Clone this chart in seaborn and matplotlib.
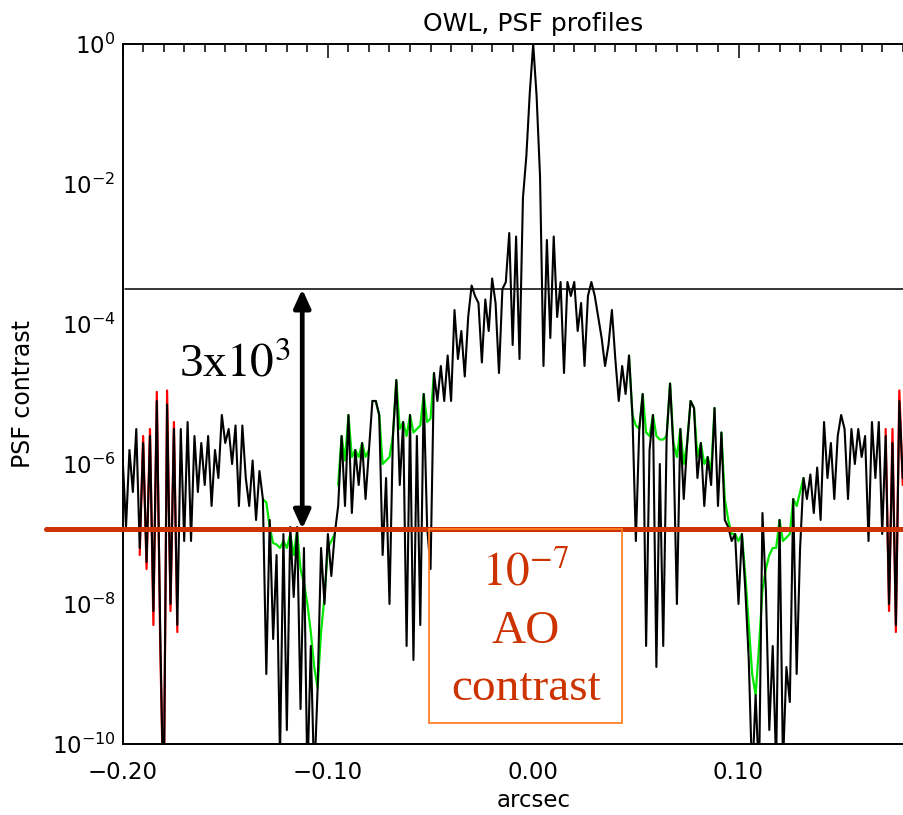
import numpy as np
import pandas as pd
import matplotlib
matplotlib.use("Agg")
import matplotlib.pyplot as plt
import matplotlib.patches as patches
from matplotlib.ticker import FixedLocator, FixedFormatter, MultipleLocator, NullFormatter
import seaborn as sns

# ---------------- data ----------------
x_start, x_end = -0.20, 0.18          # arcsec range of the sampled profile

# log10(PSF contrast) of the black profile, uniformly sampled from -0.20 to 0.18 arcsec
log_black = [
    -5.9, -6.9, -5.8, -6.4, -5.5, -7.2, -5.7, -7.4, -5.6, -8.1,
    -5.1, -8.4, -11.0, -5.15, -8.0, -5.5, -8.3, -5.5, -7.1, -5.4,
    -7.1, -5.6, -6.4, -5.7, -6.3, -5.6, -6.6, -5.8, -6.2, -5.3,
    -5.7, -5.5, -6.0, -5.45, -6.6, -5.45, -6.2, -6.6, -5.95, -6.8,
    -6.1, -6.5, -9.0, -6.8, -8.5, -7.3, -10.2, -7.0, -9.8, -6.9,
    -7.9, -6.9, -9.5, -7.2, -10.5, -8.6, -10.5, -9.2, -7.2, -8.0,
    -7.0, -7.6, -7.0, -6.6, -5.6, -6.6, -5.3, -6.7, -5.8, -6.3,
    -5.7, -6.5, -5.8, -5.1, -5.1, -5.3, -7.3, -6.2, -8.0, -5.6,
    -4.8, -6.3, -5.4, -8.6, -5.3, -8.8, -5.6, -8.3, -5.0, -6.9,
    -7.5, -4.7, -5.1, -4.6, -5.1, -4.45, -5.1, -3.8, -4.5, -4.1,
    -4.75, -3.9, -3.45, -3.6, -3.7, -4.55, -3.65, -4.1, -3.35, -3.7,
    -4.7, -3.5, -3.4, -2.7, -4.3, -2.75, -4.5, -2.2, -1.6, -0.7,
    0.0,
    -0.75, -1.9, -4.6, -2.8, -4.2, -2.75, -3.9, -3.4, -4.7, -3.4,
    -3.6, -3.4, -4.1, -3.7, -4.6, -3.6, -3.4, -3.6, -3.9, -4.2,
    -4.6, -4.3, -3.8, -4.5, -5.1, -4.6, -5.0, -4.45, -5.3, -7.1,
    -5.5, -5.0, -8.6, -5.8, -5.3, -8.9, -6.0, -8.6, -5.6, -4.85,
    -5.8, -8.0, -5.5, -6.5, -5.7, -5.1, -5.2, -6.2, -5.7, -6.6,
    -5.9, -6.3, -5.2, -6.6, -5.55, -6.8, -6.9, -7.1, -7.0, -8.0,
    -7.0, -7.8, -8.8, -10.5, -9.3, -10.5, -6.7, -7.8, -9.8, -8.6,
    -10.3, -6.8, -10.3, -8.9, -9.4, -6.5, -9.0, -7.2, -6.2, -6.5,
    -6.15, -6.7, -6.05, -6.8, -5.4, -6.2, -5.7, -6.5, -5.6, -5.3,
    -5.5, -6.5, -5.5, -6.0, -5.5, -5.9, -5.6, -7.1, -5.4, -6.2,
    -5.4, -7.0, -5.6, -8.0, -5.7, -8.3, -5.1, -6.2,
]

# green profile: stretches where it departs from the black one (start sample index, values)
green_starts = [41, 63, 73, 148, 175]
green_logs = [
    [-6.5, -6.55, -6.9, -7.13, -7.15, -7.2, -7.1, -7.2, -7.0, -7.3, -6.95,
     -7.5, -7.7, -8.0, -8.4, -8.9, -9.2, -8.4, -7.9, -7.2, -7.1, -7.0],
    [-6.3, -5.6, -5.95, -5.3, -5.9, -5.8, -5.9, -5.7, -5.9, -5.8],
    [-5.1, -5.1, -5.3, -6.0, -5.95, -5.9, -5.6, -4.8, -5.5, -5.4, -5.6,
     -5.3, -5.55, -5.5, -5.45, -5.0, -5.4, -5.35, -4.7],
    [-4.45, -5.3, -5.45, -5.5, -5.0, -5.55, -5.6, -5.3, -5.6, -5.65, -5.65,
     -5.6, -4.85, -5.7, -5.9, -5.5, -6.0, -5.7, -5.1, -5.2, -5.9, -5.7,
     -6.0, -5.9, -6.1, -5.2],
    [-5.55, -6.5, -6.8, -7.0, -7.0, -7.1, -7.0, -7.6, -8.3, -9.0, -9.3,
     -8.6, -7.8, -7.5, -7.3, -7.2, -7.2, -6.8, -7.1, -7.05, -7.0, -6.5,
     -6.6, -6.4, -6.2],
]

# red profile: stretches where it departs from the black one
red_starts = [5, 223]
red_logs = [
    [-7.3, -5.6, -7.5, -5.5, -8.3, -4.97, -8.6, -11.0, -4.95, -8.1, -5.4, -8.4],
    [-5.5, -8.1, -5.5, -8.4, -4.95, -6.3],
]

reference_level = 3.15e-4     # thin black line
ao_level = 1.18e-7            # AO contrast line
arrow_x = -0.1125

y_major = [1e0, 1e-2, 1e-4, 1e-6, 1e-8, 1e-10]
y_major_labels = ["$10^{0}$", "$10^{-2}$", "$10^{-4}$", "$10^{-6}$", "$10^{-8}$", "$10^{-10}$"]
y_minor = [1e-1, 1e-3, 1e-5, 1e-7, 1e-9]
x_major = [-0.20, -0.10, 0.00, 0.10]
x_major_labels = ["\u22120.20", "\u22120.10", "0.00", "0.10"]

# ---------------- build tables ----------------
n = len(log_black)
arcsec = np.linspace(x_start, x_end, n)
black_df = pd.DataFrame({"arcsec": arcsec, "contrast": 10.0 ** np.array(log_black)})

def segments(starts, logs):
    rows = []
    for k, (s, vals) in enumerate(zip(starts, logs)):
        for j, v in enumerate(vals):
            rows.append((arcsec[s + j], 10.0 ** v, k))
    return pd.DataFrame(rows, columns=["arcsec", "contrast", "segment"])

green_df = segments(green_starts, green_logs)
red_df = segments(red_starts, red_logs)

# ---------------- style ----------------
sns.set_theme(style="white")
plt.rcParams["font.family"] = ["DejaVu Sans"]
plt.rcParams["mathtext.fontset"] = "dejavusans"
plt.rcParams["axes.linewidth"] = 1.4

fig = plt.figure(figsize=(9.04, 8.15), dpi=100)
ax = fig.add_axes([122.6 / 904, 71 / 815, 821.2 / 904, 700 / 815])
ax.set_yscale("log")

sns.lineplot(data=red_df, x="arcsec", y="contrast", units="segment", estimator=None,
             sort=False, color="#ff0000", lw=1.6, ax=ax, zorder=2)
sns.lineplot(data=green_df, x="arcsec", y="contrast", units="segment", estimator=None,
             sort=False, color="#00e600", lw=1.6, ax=ax, zorder=2)
sns.lineplot(data=black_df, x="arcsec", y="contrast", estimator=None, sort=False,
             color="black", lw=1.5, ax=ax, zorder=3)

ax.set_xlim(-0.20, 0.20)
ax.set_ylim(1e-10, 1e0)

# reference lines
ax.axhline(reference_level, xmin=0.0035, xmax=1.0, color="black", lw=1.1, zorder=4)
ax.axhline(ao_level, xmin=-0.0933, xmax=1.0, color="#cc3300", lw=3.6, zorder=6, clip_on=False)

# double arrow
ax.annotate("", xy=(arrow_x, reference_level), xytext=(arrow_x, ao_level),
            arrowprops=dict(arrowstyle="<|-|>,head_length=0.55,head_width=0.25",
                            mutation_scale=20, lw=3.4, color="black",
                            shrinkA=0, shrinkB=0), zorder=7)

xa = ax.get_xaxis_transform()
ax.text(-0.1724, 0.5243, "3x$10^{3}$", transform=xa, fontsize=34,
        family="Liberation Serif", math_fontfamily="stix", ha="left", va="baseline",
        color="black", zorder=8)

# AO contrast box
ax.add_patch(patches.Rectangle((-0.0507, 0.03), 0.0941, 0.277, transform=xa,
                               fill=False, ec="#ff7f27", lw=1.3, zorder=6))
box_color = "#cc3300"
ax.text(-0.0035, 0.2271, "$10^{-7}$", transform=xa, fontsize=34, math_fontfamily="stix",
        family="Liberation Serif", ha="center", va="baseline", color=box_color, zorder=8)
ax.text(-0.0035, 0.1443, "AO", transform=xa, fontsize=34, family="Liberation Serif",
        ha="center", va="baseline", color=box_color, zorder=8)
ax.text(-0.0035, 0.0629, "contrast", transform=xa, fontsize=34, family="Liberation Serif",
        ha="center", va="baseline", color=box_color, zorder=8)

# ticks
ax.yaxis.set_major_locator(FixedLocator(y_major))
ax.yaxis.set_major_formatter(FixedFormatter(y_major_labels))
ax.yaxis.set_minor_locator(FixedLocator(y_minor))
ax.yaxis.set_minor_formatter(NullFormatter())
ax.xaxis.set_major_locator(FixedLocator(x_major))
ax.xaxis.set_major_formatter(FixedFormatter(x_major_labels))
ax.xaxis.set_minor_locator(MultipleLocator(0.01))
ax.xaxis.set_minor_formatter(NullFormatter())

ax.tick_params(axis="both", which="both", direction="in", top=True, right=True,
               width=1.1, color="black", labelcolor="black")
ax.tick_params(axis="y", which="major", length=11.5, pad=5, labelsize=16.5)
ax.tick_params(axis="y", which="minor", length=6.5)
ax.tick_params(axis="x", which="major", length=10, pad=12, labelsize=16.5)
ax.tick_params(axis="x", which="minor", length=5.8)
for sp in ax.spines.values():
    sp.set_color("black")
    sp.set_linewidth(1.4)

ax.set_title("OWL, PSF profiles", fontsize=18, pad=9, color="black")
ax.set_xlabel("arcsec", fontsize=16.5, labelpad=4, color="black")
ax.set_ylabel("PSF contrast", fontsize=17, labelpad=12, color="black")

fig.savefig("out.png", dpi=100, facecolor="white")
